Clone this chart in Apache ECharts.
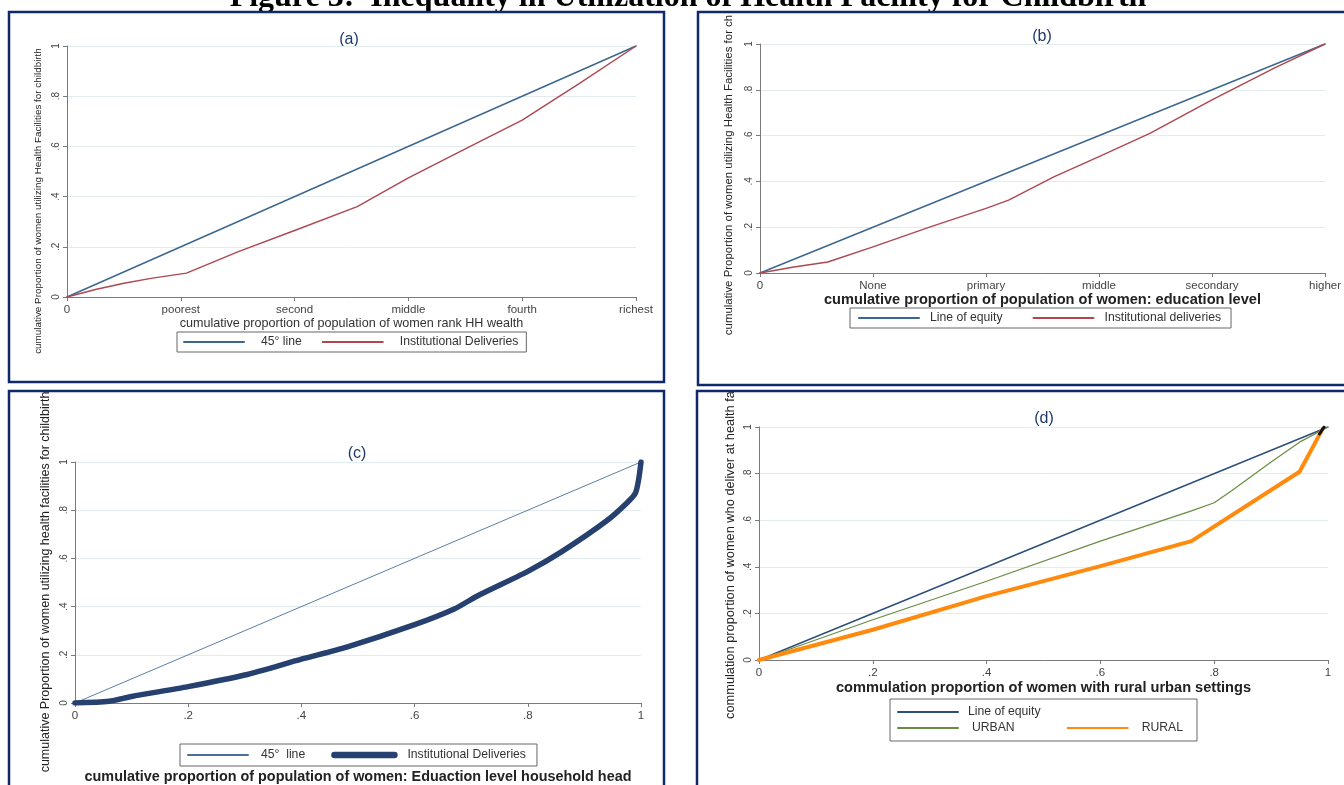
<!DOCTYPE html>
<html><head><meta charset="utf-8">
<script src="https://cdn.jsdelivr.net/npm/echarts@6/dist/echarts.min.js"></script>
<style>html,body{margin:0;padding:0;background:#fff}#c{width:1344px;height:785px}</style>
</head><body><div id="c"></div>
<script>
// ---------- text ----------
const figureTitle = 'Figure 3:  Inequality in Utilization of Health Facility for Childbirth';
const panelLabels = ['(a)', '(b)', '(c)', '(d)'];
const yTicks = ['0', '.2', '.4', '.6', '.8', '1'];
const wealthTicks = ['0', 'poorest', 'second', 'middle', 'fourth', 'richest'];
const eduTicks = ['0', 'None', 'primary', 'middle', 'secondary', 'higher'];
const propTicks = ['0', '.2', '.4', '.6', '.8', '1'];
const xTitles = [
  'cumulative proportion of population of women rank HH wealth',
  'cumulative proportion of population of women: education level',
  'cumulative proportion of population of women: Eduaction level household head',
  'commulation proportion of women with rural urban settings'
];
const yTitles = [
  'cumulative Proportion of women utilizing Health Facilities for childbirth',
  'cumulative Proportion of women utilizing Health Facilities for ch',
  'cumulative Proportion of women utilizing health facilities for childbirth',
  'commulation proportion of women who deliver at health fa'
];

// ---------- data ----------
const equityLine = [[0, 0], [1, 1]];
const wealthDeliveries = [[0,0],[0.05,0.03],[0.1,0.055],[0.15,0.075],[0.21,0.095],[0.3,0.18],[0.4,0.265],[0.51,0.36],[0.6,0.475],[0.7,0.59],[0.8,0.705],[0.9,0.85],[1,1]];
const eduDeliveries = [[0,0],[0.06,0.026],[0.12,0.048],[0.2,0.114],[0.3,0.2],[0.4,0.282],[0.44,0.318],[0.52,0.42],[0.6,0.508],[0.69,0.61],[0.8,0.756],[0.91,0.895],[1,1]];
const hhHeadDeliveries = [[0,0],[0.06,0.007],[0.1,0.027],[0.2,0.068],[0.3,0.116],[0.4,0.182],[0.48,0.232],[0.6,0.325],[0.67,0.39],[0.71,0.443],[0.8,0.546],[0.86,0.628],[0.94,0.757],[0.975,0.83],[0.99,0.87],[0.996,0.93],[1,1]];
const urbanCurve = [[0,0],[0.2,0.173],[0.4,0.338],[0.6,0.51],[0.76,0.64],[0.8,0.675],[0.83,0.725],[0.9,0.85],[0.95,0.935],[1,1]];
const ruralCurve = [[0,0],[0.2,0.13],[0.4,0.274],[0.6,0.403],[0.76,0.51],[0.95,0.808],[0.99,0.99]];
const blackTip = [[0.985,0.97],[0.993,1]];

// ---------- chart ----------
const FONT = 'Liberation Sans, Arial, sans-serif';
const chart = echarts.init(document.getElementById('c'), null, {renderer: 'canvas'});

const grids = [
  {left: 67, top: 46, width: 569, height: 251},
  {left: 760, top: 44, width: 567, height: 229},
  {left: 75, top: 462, width: 566, height: 244},
  {left: 759, top: 427, width: 569, height: 233}
];
const xTickSets = [wealthTicks, eduTicks, propTicks, propTicks];
const xNameGaps = [18, 17, 67, 20];
const xNameStyles = [
  {fontSize: 12.6, fontWeight: 'normal', color: '#333'},
  {fontSize: 14.6, fontWeight: 'bold', color: '#222'},
  {fontSize: 14.4, fontWeight: 'bold', color: '#222'},
  {fontSize: 14.6, fontWeight: 'bold', color: '#222'}
];

const axisLine = {show: true, lineStyle: {color: '#7a7a7a', width: 1}};
const axisTick = {show: true, inside: false, length: 4, lineStyle: {color: '#7a7a7a'}};

const xAxes = grids.map((g, i) => ({
  type: 'value', gridIndex: i, min: 0, max: 1, interval: 0.2,
  axisLine, axisTick, splitLine: {show: false},
  axisLabel: {
    margin: 7, fontSize: 11.5, color: '#444', fontFamily: FONT,
    formatter: v => xTickSets[i][Math.round(v * 5)]
  },
  name: xTitles[i], nameLocation: 'middle', nameGap: xNameGaps[i],
  nameTextStyle: Object.assign({fontFamily: FONT}, xNameStyles[i])
}));
const yAxes = grids.map((g, i) => ({
  type: 'value', gridIndex: i, min: 0, max: 1, interval: 0.2,
  axisLine, axisTick,
  splitLine: {show: true, lineStyle: {color: '#e2ebee', width: 1}},
  axisLabel: {
    rotate: 90, margin: 6, fontSize: 10, color: '#444', fontFamily: FONT,
    formatter: v => yTicks[Math.round(v * 5)]
  }
}));

function line(name, data, idx, color, width, extra) {
  return Object.assign({
    name, type: 'line', data, xAxisIndex: idx, yAxisIndex: idx,
    symbol: 'none', smooth: false, animation: false,
    lineStyle: {color, width, cap: 'round', join: 'round'},
    itemStyle: {color}
  }, extra || {});
}

const series = [
  line('a|45° line', equityLine, 0, '#3b6690', 1.4),
  line('a|Institutional Deliveries', wealthDeliveries, 0, '#ad4850', 1.4),
  line('b|Line of equity', equityLine, 1, '#3b6690', 1.4),
  line('b|Institutional deliveries', eduDeliveries, 1, '#ad4850', 1.4),
  line('c|45°  line', equityLine, 2, '#4a6f99', 0.9),
  line('c|Institutional Deliveries', hhHeadDeliveries, 2, '#26406f', 5.5, {smooth: 0.25}),
  line('d|Line of equity', equityLine, 3, '#2b4f79', 1.4),
  line('d|URBAN', urbanCurve, 3, '#6a8c42', 1.2),
  line('d|RURAL', ruralCurve, 3, '#ff8a0d', 4),
  line('d|tip', blackTip, 3, '#111111', 3)
];

const legendBase = {
  orient: 'horizontal', itemWidth: 60, itemHeight: 14,
  borderColor: '#666', borderWidth: 1, borderRadius: 0, selectedMode: false,
  itemStyle: {opacity: 0},
  formatter: n => n.split('|')[1],
  textStyle: {fontSize: 12.2, color: '#333', fontFamily: FONT}
};
function lg(extra, pad) {
  return Object.assign({}, legendBase, extra, {
    textStyle: Object.assign({}, legendBase.textStyle, {padding: [0, 0, 0, pad]})
  });
}
const legends = [
  lg({left: 177, top: 332, padding: [4, 8, 4, 6], itemGap: 20,
    data: ['a|45° line', 'a|Institutional Deliveries']}, 12),
  lg({left: 850, top: 308, padding: [4, 10, 4, 8], itemGap: 30,
    data: ['b|Line of equity', 'b|Institutional deliveries']}, 6),
  lg({left: 180, top: 744, padding: [5, 11, 5, 7], itemGap: 26,
    data: ['c|45°  line',
      {name: 'c|Institutional Deliveries', lineStyle: {width: 6.5, cap: 'round'}}]}, 8),
  lg({left: 897, top: 706, padding: 0, borderWidth: 0, itemGap: 20,
    data: ['d|Line of equity']}, 5),
  lg({left: 897, top: 722, padding: 0, borderWidth: 0, itemGap: 52,
    data: ['d|URBAN', 'd|RURAL']}, 9)
];

const BORDER = '#10296a';
const panelBoxes = [
  {x: 9, y: 12, width: 655, height: 370},
  {x: 698, y: 12, width: 660, height: 373},
  {x: 9, y: 391, width: 655, height: 410},
  {x: 697, y: 391, width: 660, height: 410}
];
const labelPos = [[349, 40], [1042, 37], [357, 454], [1044, 419]];
const yTitlePos = [[38, 201, 9.9], [729, 175, 11.45], [46, 582, 12.5], [730, 555, 12.8]];

const graphic = [];
panelBoxes.forEach(b => graphic.push({
  type: 'rect', shape: b, silent: true, z: 100,
  style: {fill: 'none', stroke: BORDER, lineWidth: 2.5}
}));
labelPos.forEach((p, i) => graphic.push({
  type: 'text', x: p[0], y: p[1], silent: true,
  style: {text: panelLabels[i], align: 'center', verticalAlign: 'middle',
    font: '16px ' + FONT, fill: '#1f3a68'}
}));
yTitlePos.forEach((p, i) => graphic.push({
  type: 'text', x: p[0], y: p[1], rotation: Math.PI / 2, silent: true,
  style: {text: yTitles[i], align: 'center', verticalAlign: 'middle',
    font: p[2] + 'px ' + FONT, fill: '#222'}
}));
graphic.push({
  type: 'rect', shape: {x: 890, y: 699, width: 307, height: 42}, silent: true,
  style: {fill: 'none', stroke: '#666', lineWidth: 1}
});
graphic.push({
  type: 'text', x: 688, y: 14, silent: true,
  style: {text: figureTitle, align: 'center', verticalAlign: 'bottom',
    font: 'bold 32px "Liberation Serif", "Times New Roman", serif', fill: '#000'}
});

chart.setOption({
  animation: false,
  backgroundColor: '#ffffff',
  grid: grids,
  xAxis: xAxes,
  yAxis: yAxes,
  legend: legends,
  series,
  graphic
});
</script>
</body></html>
